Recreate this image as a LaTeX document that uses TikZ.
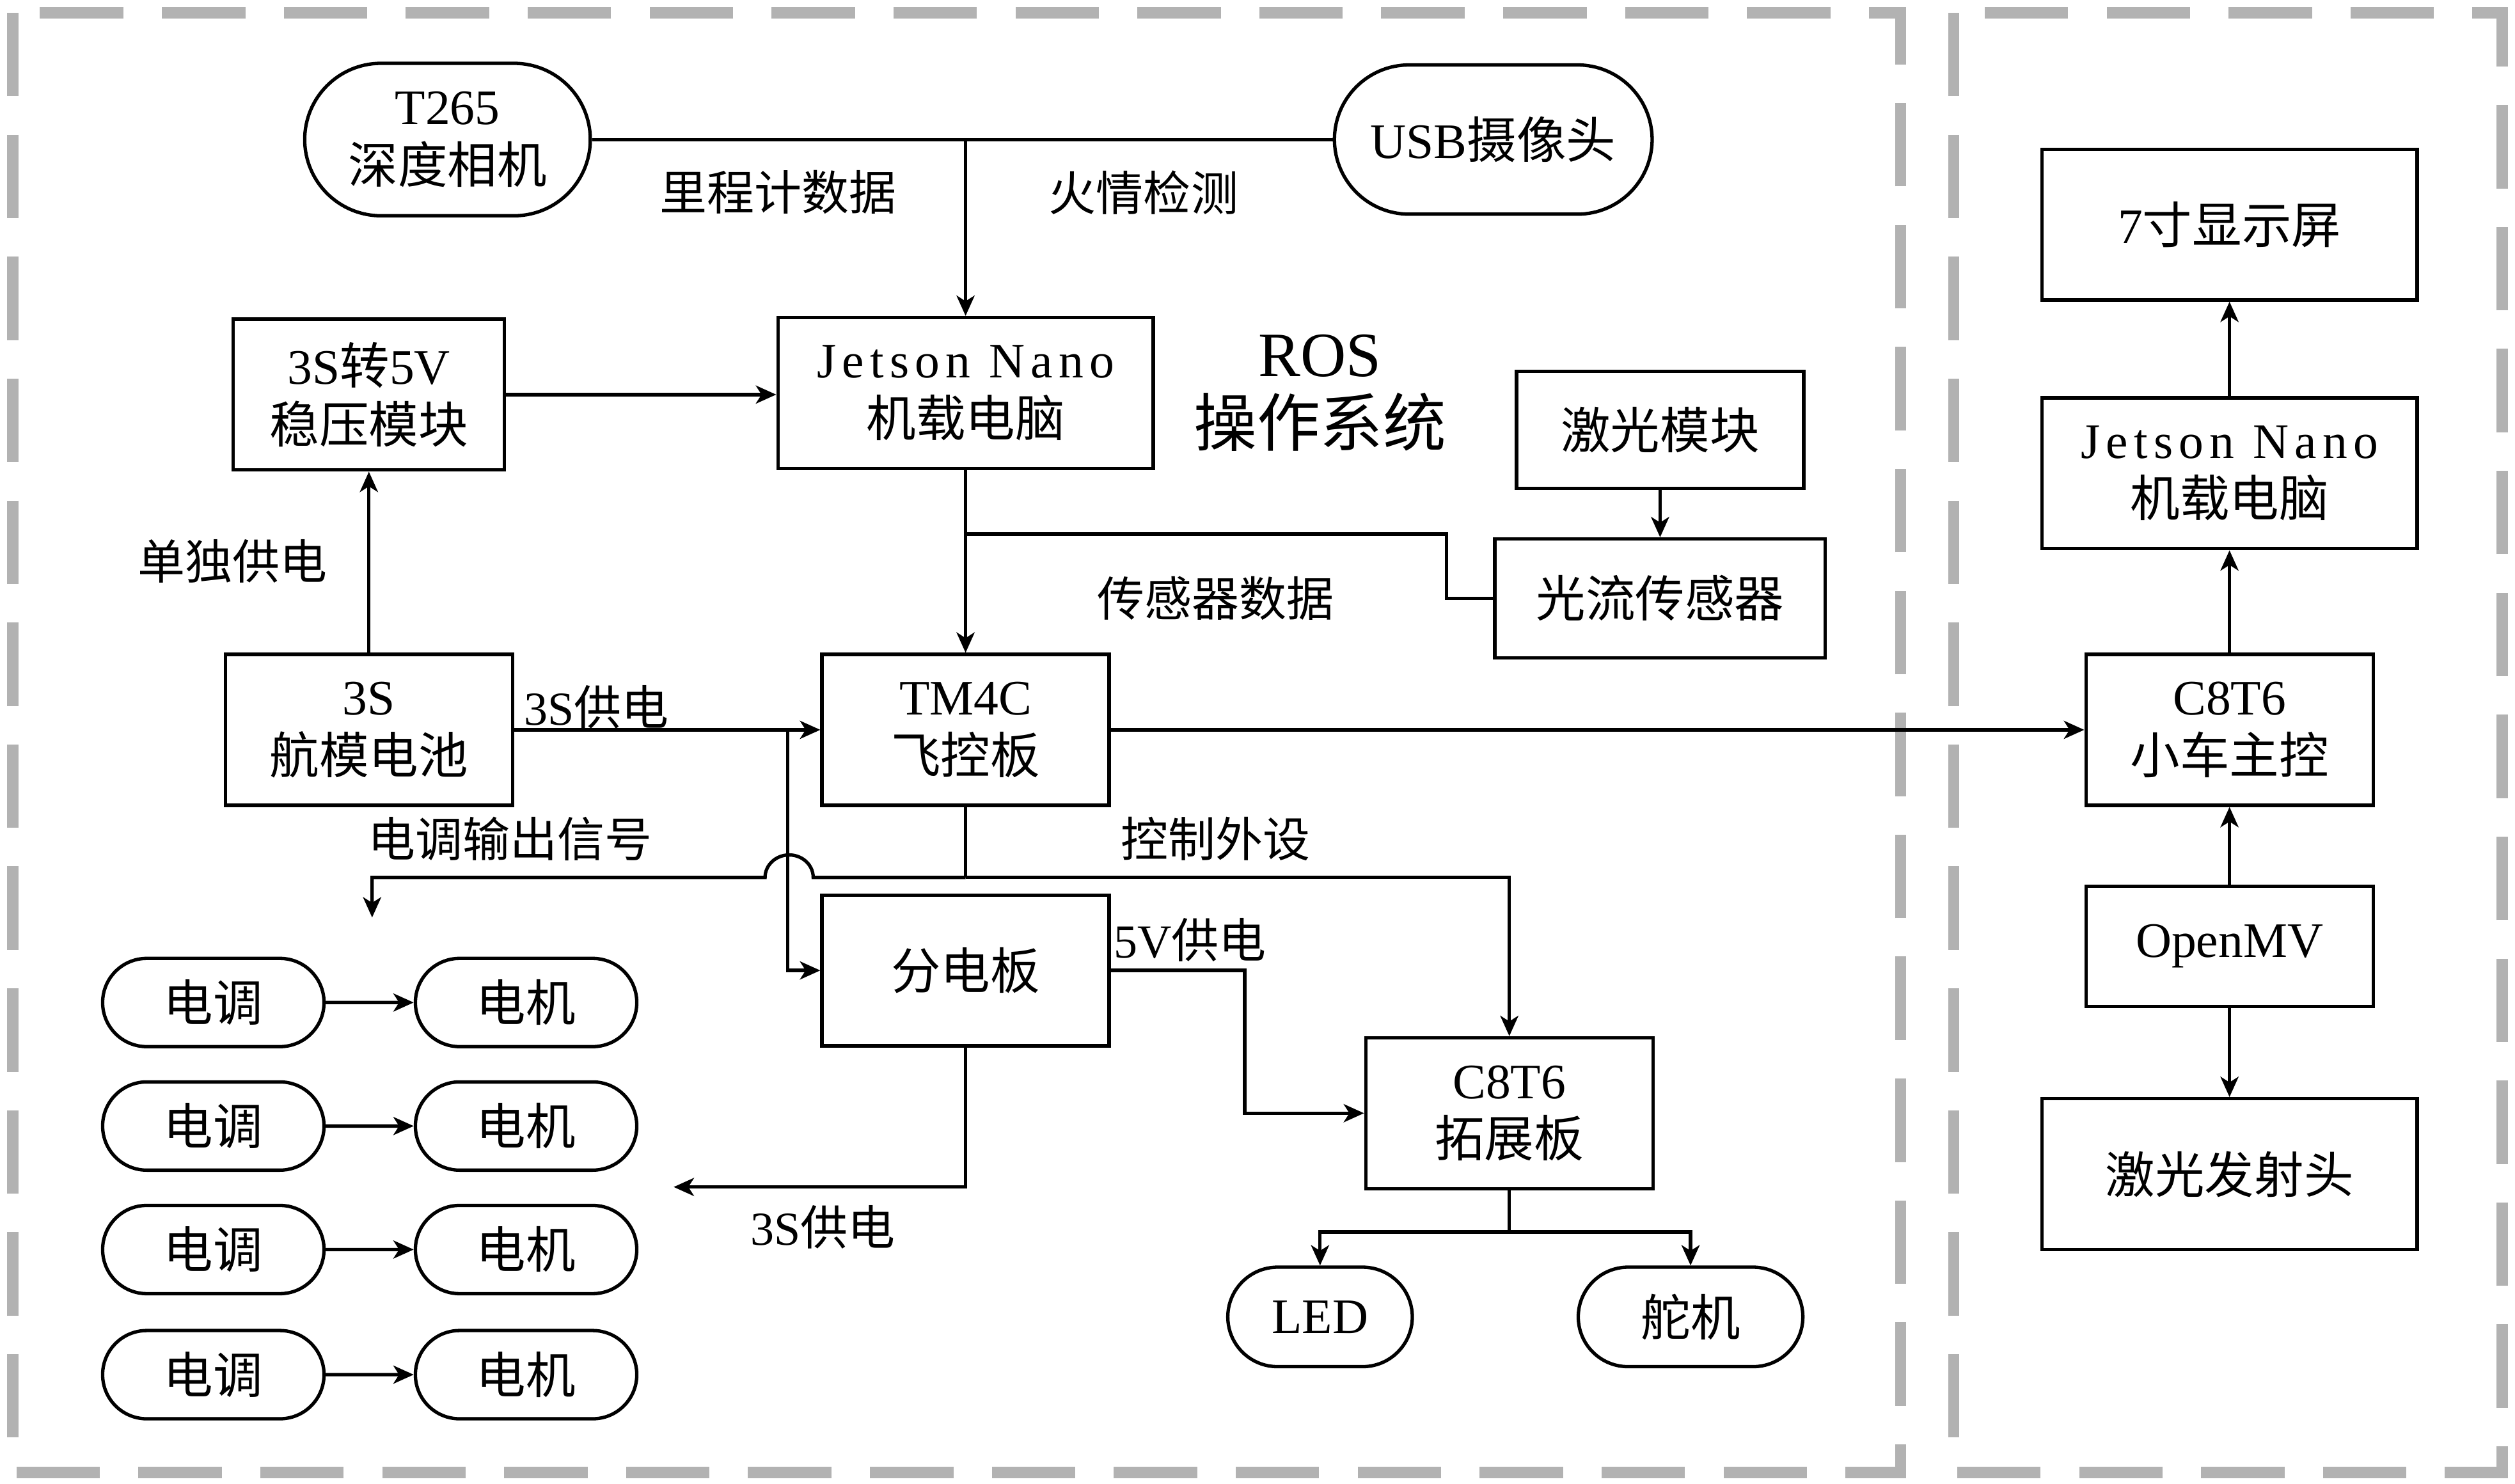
\documentclass[tikz,border=0pt]{standalone}
\usepackage{fontspec}
\setmainfont{Noto Sans CJK SC}
\newfontfamily\en{Liberation Serif}
\newfontfamily\enw[LetterSpace=12]{Liberation Serif}
\usetikzlibrary{arrows.meta,shapes.misc}
\tikzstyle{box}=[draw, line width=1.5pt, inner sep=0pt, align=center, minimum width=4.475cm, minimum height=2.35cm]
\tikzstyle{pill}=[draw, rounded rectangle, line width=1.5pt, inner sep=0pt, align=center]
\tikzstyle{wire}=[line width=1.5pt]
\tikzstyle{arr}=[line width=1.5pt, -{Stealth[length=9pt,width=8pt,inset=2.5pt]}]
\tikzstyle{lab}=[inner sep=0pt, font=\fontsize{21}{25}\selectfont]
\tikzstyle{panel}=[draw=black!30, line width=5pt, dash pattern=on 1.3cm off 0.6cm]

\begin{document}
\begin{tikzpicture}[x=0.025cm, y=-0.025cm, font=\fontsize{22}{26}\selectfont]
   \useasboundingbox (0,0) rectangle (1568,925);
   \draw[panel] (8,8) rectangle (1185,918);
   \draw[panel] (1218,8) rectangle (1560,918);

   \node[pill, minimum width=4.45cm, minimum height=2.375cm] (t265) at (279,87) {{\en T265}\\深度相机};
   \node[pill, minimum width=4.95cm, minimum height=2.325cm] (usb) at (931,87) {{\en USB}摄像头};
   \node[box, minimum width=5.85cm] (jet) at (602,245) {{\enw Jetson Nano}\\机载电脑};
   \node[box, minimum width=4.225cm] (reg) at (230,246) {{\en 3S}转{\en 5V}\\稳压模块};
   \node[align=center, font=\fontsize{28}{31}\selectfont] (ros) at (823,245) {{\en ROS}\\操作系统};
   \node[box, minimum height=1.825cm] (laser) at (1035,268) {激光模块};
   \node[box, minimum width=5.15cm, minimum height=1.85cm] (flow) at (1035,373) {光流传感器};
   \node[box] (bat) at (230,455) {{\en 3S}\\航模电池};
   \node[box] (tm4c) at (602,455) {{\en TM4C}\\飞控板};
   \node[box] (pdb) at (602,605) {分电板};
   \node[box] (ext) at (941,694) {{\en C8T6}\\拓展板};
   \node[pill, minimum width=2.875cm, minimum height=1.55cm] (led) at (823,821) {{\en LED}};
   \node[pill, minimum width=3.5cm, minimum height=1.55cm] (servo) at (1054,821) {舵机};

   \foreach \y [count=\i] in {625,702,779,857} {
      \node[pill, minimum width=3.45cm, minimum height=1.375cm] (esc\i) at (133,\y) {电调};
      \node[pill, minimum width=3.45cm, minimum height=1.375cm] (mot\i) at (328,\y) {电机};
      \draw[arr] (esc\i) -- (mot\i);
   }

   \node[box, minimum width=5.85cm] (scr) at (1390,140) {{\en 7}寸显示屏};
   \node[box, minimum width=5.85cm] (jet2) at (1390,295) {{\enw Jetson Nano}\\机载电脑};
   \node[box] (car) at (1390,455) {{\en C8T6}\\小车主控};
   \node[box, minimum height=1.875cm] (mv) at (1390,590) {{\en OpenMV}};
   \node[box, minimum width=5.85cm] (head) at (1390,732) {激光发射头};

   \coordinate (top) at (602,87);
   \coordinate (j1) at (602,333);
   \coordinate (j2) at (491,455);
   \coordinate (j3) at (602,547);
   \coordinate (j4) at (941,768);
   \coordinate (escin) at (232,572);
   \coordinate (pwrout) at (420,740);

   \draw[wire] (t265.east) -- (usb.west);
   \draw[arr] (top) -- (jet);
   \node[lab] (odo) at (485,120) {里程计数据};
   \node[lab] (fire) at (713,120) {火情检测};
   \draw[arr] (reg.east) -- (reg.east -| jet.west);
   \draw[arr] (laser) -- (flow);
   \draw[wire] (flow.west) -- ++(-29,0) |- (j1);
   \node[lab] (sens) at (758,373) {传感器数据};
   \draw[arr] (jet) -- (tm4c);
   \draw[arr] (bat) -- (reg);
   \node[lab] (solo) at (145,350) {单独供电};
   \draw[arr] (bat.east) -- (tm4c.west);
   \node[lab] (pwr1) at (372,441) {{\en 3S}供电};
   \draw[arr] (j2) |- (pdb.west);
   \draw[wire] (tm4c.south) -- (j3);
   \draw[arr] (j3) -- (507,547) arc[start angle=0, end angle=180, x radius=0.375cm, y radius=0.35cm] -- (232,547) -- (escin);
   \node[lab] (escsig) at (318,523) {电调输出信号};
   \draw[arr] (j3) -| (ext.north);
   \node[lab] (ctrl) at (758,523) {控制外设};
   \draw[arr] (pdb.east) -- (776,605) |- (ext.west);
   \node[lab] (pwr2) at (742,586) {{\en 5V}供电};
   \draw[arr] (pdb.south) |- (pwrout);
   \node[lab] (pwr3) at (513,765) {{\en 3S}供电};
   \draw[wire] (ext.south) -- (j4);
   \draw[arr] (j4) -| (led.north);
   \draw[arr] (j4) -| (servo.north);

   \draw[arr] (tm4c.east) -- (car.west);
   \draw[arr] (jet2) -- (scr);
   \draw[arr] (car) -- (jet2);
   \draw[arr] (mv) -- (car);
   \draw[arr] (mv) -- (head);
\end{tikzpicture}
\end{document}
